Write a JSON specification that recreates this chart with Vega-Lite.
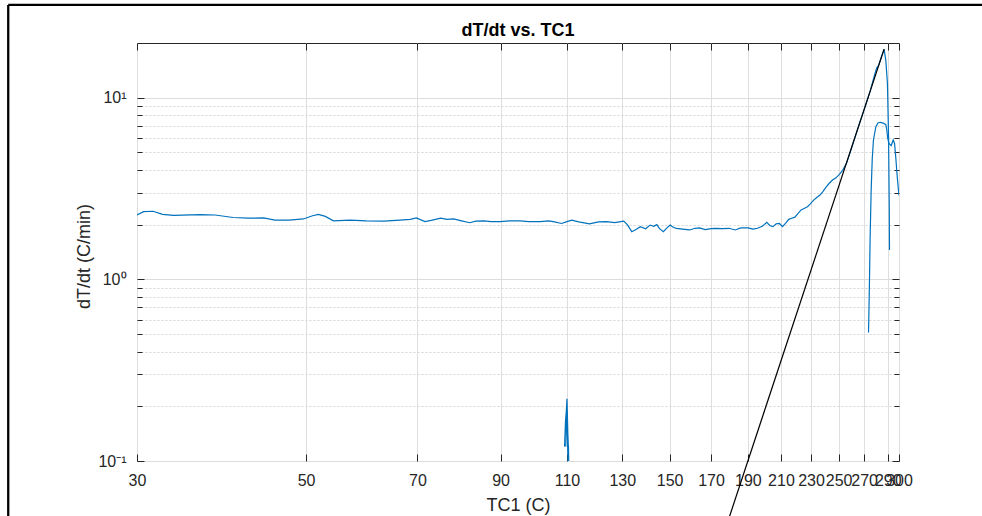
{
  "$schema": "https://vega.github.io/schema/vega-lite/v6.json",
  "autosize": {"type": "none"},
  "padding": {"left": 137, "top": 43, "right": 83, "bottom": 55},
  "width": 762,
  "height": 418,
  "background": "white",
  "title": {"text": "dT/dt vs. TC1", "fontSize": 18, "fontWeight": "bold", "font": "Liberation Sans", "color": "#000000", "baseline": "alphabetic", "offset": -50, "anchor": "middle", "frame": "group"},
  "config": {
    "view": {"stroke": "#262626", "strokeWidth": 1},
    "font": "Liberation Sans",
    "axis": {"labelFont": "Liberation Sans", "titleFont": "Liberation Sans", "labelColor": "#262626", "titleColor": "#262626", "tickColor": "#262626", "domain": false, "titleFontWeight": "normal"}
  },
  "datasets": {
    "blue": [
      {"s":"a","i":0,"x":30.0,"y":2.26},{"s":"a","i":1,"x":30.6,"y":2.36},{"s":"a","i":2,"x":31.5,"y":2.37},{"s":"a","i":3,"x":32.4,"y":2.28},{"s":"a","i":4,"x":33.5,"y":2.25},{"s":"a","i":5,"x":36.3,"y":2.27},{"s":"a","i":6,"x":38.0,"y":2.26},{"s":"a","i":7,"x":40.1,"y":2.19},{"s":"a","i":8,"x":42.0,"y":2.17},{"s":"a","i":9,"x":44.0,"y":2.18},{"s":"a","i":10,"x":45.5,"y":2.12},{"s":"a","i":11,"x":47.5,"y":2.12},{"s":"a","i":12,"x":49.6,"y":2.15},{"s":"a","i":13,"x":51.0,"y":2.24},{"s":"a","i":14,"x":51.9,"y":2.28},{"s":"a","i":15,"x":53.0,"y":2.22},{"s":"a","i":16,"x":54.3,"y":2.10},{"s":"a","i":17,"x":57.1,"y":2.12},{"s":"a","i":18,"x":60.0,"y":2.10},{"s":"a","i":19,"x":63.3,"y":2.09},{"s":"a","i":20,"x":66.4,"y":2.12},{"s":"a","i":21,"x":68.5,"y":2.14},{"s":"a","i":22,"x":69.8,"y":2.18},{"s":"a","i":23,"x":71.6,"y":2.08},{"s":"a","i":24,"x":73.0,"y":2.11},{"s":"a","i":25,"x":75.1,"y":2.17},{"s":"a","i":26,"x":76.5,"y":2.14},{"s":"a","i":27,"x":78.1,"y":2.15},{"s":"a","i":28,"x":80.0,"y":2.10},{"s":"a","i":29,"x":82.0,"y":2.05},{"s":"a","i":30,"x":83.5,"y":2.09},{"s":"a","i":31,"x":85.6,"y":2.10},{"s":"a","i":32,"x":87.5,"y":2.08},{"s":"a","i":33,"x":89.8,"y":2.08},{"s":"a","i":34,"x":92.5,"y":2.10},{"s":"a","i":35,"x":95.5,"y":2.10},{"s":"a","i":36,"x":98.0,"y":2.08},{"s":"a","i":37,"x":101.4,"y":2.08},{"s":"a","i":38,"x":104.0,"y":2.10},{"s":"a","i":39,"x":106.0,"y":2.07},{"s":"a","i":40,"x":108.2,"y":2.03},{"s":"a","i":41,"x":110.0,"y":2.08},{"s":"a","i":42,"x":111.6,"y":2.12},{"s":"a","i":43,"x":114.0,"y":2.07},{"s":"a","i":44,"x":117.7,"y":2.02},{"s":"a","i":45,"x":121.0,"y":2.07},{"s":"a","i":46,"x":124.0,"y":2.08},{"s":"a","i":47,"x":127.0,"y":2.05},{"s":"a","i":48,"x":130.6,"y":2.09},{"s":"a","i":49,"x":132.0,"y":2.00},{"s":"a","i":50,"x":133.8,"y":1.83},{"s":"a","i":51,"x":135.5,"y":1.88},{"s":"a","i":52,"x":137.3,"y":1.95},{"s":"a","i":53,"x":139.5,"y":1.90},{"s":"a","i":54,"x":141.4,"y":1.99},{"s":"a","i":55,"x":143.0,"y":1.96},{"s":"a","i":56,"x":144.3,"y":2.00},{"s":"a","i":57,"x":145.5,"y":1.90},{"s":"a","i":58,"x":147.2,"y":1.83},{"s":"a","i":59,"x":148.8,"y":1.92},{"s":"a","i":60,"x":150.2,"y":1.99},{"s":"a","i":61,"x":151.8,"y":1.93},{"s":"a","i":62,"x":153.2,"y":1.91},{"s":"a","i":63,"x":156.0,"y":1.89},{"s":"a","i":64,"x":159.4,"y":1.87},{"s":"a","i":65,"x":162.0,"y":1.91},{"s":"a","i":66,"x":164.2,"y":1.92},{"s":"a","i":67,"x":167.0,"y":1.88},{"s":"a","i":68,"x":170.0,"y":1.90},{"s":"a","i":69,"x":172.5,"y":1.91},{"s":"a","i":70,"x":176.0,"y":1.90},{"s":"a","i":71,"x":179.5,"y":1.91},{"s":"a","i":72,"x":182.9,"y":1.87},{"s":"a","i":73,"x":186.0,"y":1.92},{"s":"a","i":74,"x":190.1,"y":1.92},{"s":"a","i":75,"x":193.0,"y":1.89},{"s":"a","i":76,"x":195.6,"y":1.91},{"s":"a","i":77,"x":198.5,"y":1.96},{"s":"a","i":78,"x":201.2,"y":2.06},{"s":"a","i":79,"x":203.0,"y":1.98},{"s":"a","i":80,"x":205.0,"y":1.95},{"s":"a","i":81,"x":207.0,"y":2.02},{"s":"a","i":82,"x":209.0,"y":2.03},{"s":"a","i":83,"x":211.0,"y":1.95},{"s":"a","i":84,"x":213.0,"y":2.04},{"s":"a","i":85,"x":215.0,"y":2.14},{"s":"a","i":86,"x":217.0,"y":2.17},{"s":"a","i":87,"x":219.0,"y":2.20},{"s":"a","i":88,"x":221.0,"y":2.30},{"s":"a","i":89,"x":223.2,"y":2.41},{"s":"a","i":90,"x":225.5,"y":2.46},{"s":"a","i":91,"x":227.5,"y":2.51},{"s":"a","i":92,"x":229.5,"y":2.60},{"s":"a","i":93,"x":231.8,"y":2.73},{"s":"a","i":94,"x":234.0,"y":2.82},{"s":"a","i":95,"x":236.3,"y":2.91},{"s":"a","i":96,"x":238.5,"y":3.05},{"s":"a","i":97,"x":240.8,"y":3.23},{"s":"a","i":98,"x":243.0,"y":3.38},{"s":"a","i":99,"x":245.4,"y":3.52},{"s":"a","i":100,"x":248.0,"y":3.62},{"s":"a","i":101,"x":250.5,"y":3.78},{"s":"a","i":102,"x":253.0,"y":3.98},{"s":"a","i":103,"x":256.0,"y":4.35},{"s":"a","i":104,"x":260.0,"y":5.3},{"s":"a","i":105,"x":265.0,"y":6.8},{"s":"a","i":106,"x":270.0,"y":8.6},{"s":"a","i":107,"x":275.0,"y":10.9},{"s":"a","i":108,"x":279.0,"y":13.6},{"s":"a","i":109,"x":280.5,"y":14.6},{"s":"a","i":110,"x":282.0,"y":15.0},{"s":"a","i":111,"x":284.5,"y":16.8},{"s":"a","i":112,"x":286.8,"y":18.5},{"s":"a","i":113,"x":288.3,"y":16.0},{"s":"a","i":114,"x":289.7,"y":12.0},{"s":"a","i":115,"x":290.7,"y":6.0},{"s":"a","i":116,"x":291.3,"y":2.5},{"s":"a","i":117,"x":291.5,"y":1.45},
      {"s":"b","i":0,"x":273.6,"y":0.51},{"s":"b","i":1,"x":274.0,"y":0.7},{"s":"b","i":2,"x":274.4,"y":0.99},{"s":"b","i":3,"x":274.9,"y":1.65},{"s":"b","i":4,"x":275.8,"y":3.1},{"s":"b","i":5,"x":276.7,"y":4.6},{"s":"b","i":6,"x":277.7,"y":5.85},{"s":"b","i":7,"x":279.7,"y":6.9},{"s":"b","i":8,"x":281.5,"y":7.25},{"s":"b","i":9,"x":283.4,"y":7.32},{"s":"b","i":10,"x":286.0,"y":7.25},{"s":"b","i":11,"x":288.3,"y":7.1},{"s":"b","i":12,"x":289.2,"y":6.6},{"s":"b","i":13,"x":289.9,"y":6.0},{"s":"b","i":14,"x":291.0,"y":5.6},{"s":"b","i":15,"x":293.0,"y":5.45},{"s":"b","i":16,"x":294.8,"y":5.85},{"s":"b","i":17,"x":296.0,"y":5.6},{"s":"b","i":18,"x":297.2,"y":4.6},{"s":"b","i":19,"x":298.2,"y":3.8},{"s":"b","i":20,"x":299.5,"y":3.1},{"s":"b","i":21,"x":300.0,"y":2.9},
      {"s":"c","i":0,"x":110.9,"y":0.07},{"s":"c","i":1,"x":110.6,"y":0.1},{"s":"c","i":2,"x":110.3,"y":0.14},{"s":"c","i":3,"x":110.0,"y":0.22},{"s":"c","i":4,"x":109.8,"y":0.19},{"s":"c","i":5,"x":109.5,"y":0.165},{"s":"c","i":6,"x":109.2,"y":0.12},{"s":"c","i":7,"x":109.4,"y":0.14},{"s":"c","i":8,"x":109.7,"y":0.17},{"s":"c","i":9,"x":109.9,"y":0.2},{"s":"c","i":10,"x":110.2,"y":0.13},{"s":"c","i":11,"x":110.5,"y":0.12},{"s":"c","i":12,"x":110.7,"y":0.08},
      {"s":"d","i":0,"x":109.6,"y":0.12},{"s":"d","i":1,"x":109.9,"y":0.19},{"s":"d","i":2,"x":110.1,"y":0.15},{"s":"d","i":3,"x":110.4,"y":0.09}
    ],
    "fit": [
      {"x": 172.8, "y": 0.03},
      {"x": 286.8, "y": 18.5}
    ]
  },
  "layer": [
    {
      "data": {"name": "blue"},
      "mark": {"type": "line", "color": "#0072BD", "strokeWidth": 1.2, "clip": true},
      "encoding": {
        "x": {"field": "x", "type": "quantitative",
          "scale": {"type": "log", "domain": [30, 300], "nice": false},
          "axis": {"orient": "bottom", "values": [30,50,70,90,110,130,150,170,190,210,230,250,270,290,300], "format": "d", "grid": true, "gridColor": "#dedede", "gridWidth": 1, "tickSize": -7, "labelPadding": 18, "labelFontSize": 16, "labelOverlap": false, "labelFlush": false, "title": "TC1 (C)", "titleFontSize": 18, "titlePadding": 8}},
        "y": {"field": "y", "type": "quantitative",
          "scale": {"type": "log", "domain": [0.1, 20], "nice": false},
          "axis": {"orient": "left", "values": [0.1, 1, 10], "grid": true, "gridColor": "#dcdcdc", "gridWidth": 1, "tickSize": -7, "labelPadding": 18, "labelFontSize": 16, "labelExpr": "datum.value > 5 ? '10¹' : datum.value > 0.5 ? '10⁰' : '10⁻¹'", "title": "dT/dt (C/min)", "titleFontSize": 18, "titlePadding": 4, "titleY": 213}},
        "detail": {"field": "s"},
        "order": {"field": "i"}
      }
    },
    {
      "data": {"name": "fit"},
      "mark": {"type": "line", "color": "#000000", "strokeWidth": 1.2, "clip": false},
      "encoding": {
        "x": {"field": "x", "type": "quantitative",
          "axis": {"orient": "top", "values": [30,50,70,90,110,130,150,170,190,210,230,250,270,290,300], "labels": false, "grid": false, "tickSize": -7, "title": null}},
        "y": {"field": "y", "type": "quantitative",
          "axis": {"orient": "right", "values": [0.2,0.3,0.4,0.5,0.6,0.7,0.8,0.9,2,3,4,5,6,7,8,9], "labels": false, "grid": true, "gridColor": "#d4d4d4", "gridDash": [2, 2], "gridWidth": 1, "tickSize": -5, "title": null}}
      }
    },
    {
      "data": {"values": [{}]},
      "mark": {"type": "rule", "color": "#000000", "strokeWidth": 2.3, "clip": false},
      "encoding": {
        "x": {"datum": 20.33, "axis": null},
        "y": {"datum": 32.4, "axis": {"orient": "left", "values": [0.2,0.3,0.4,0.5,0.6,0.7,0.8,0.9,2,3,4,5,6,7,8,9], "labels": false, "grid": false, "tickSize": -5, "title": null}},
        "y2": {"datum": 0.04}
      }
    },
    {
      "data": {"values": [{}]},
      "mark": {"type": "rule", "color": "#000000", "strokeWidth": 2.3, "clip": false},
      "encoding": {
        "x": {"datum": 20.33, "axis": null},
        "x2": {"datum": 400},
        "y": {"datum": 32.4, "axis": {"orient": "right", "values": [0.1, 1, 10], "labels": false, "grid": false, "tickSize": -7, "title": null}}
      }
    }
  ],
  "resolve": {"axis": {"x": "independent", "y": "independent"}}
}
